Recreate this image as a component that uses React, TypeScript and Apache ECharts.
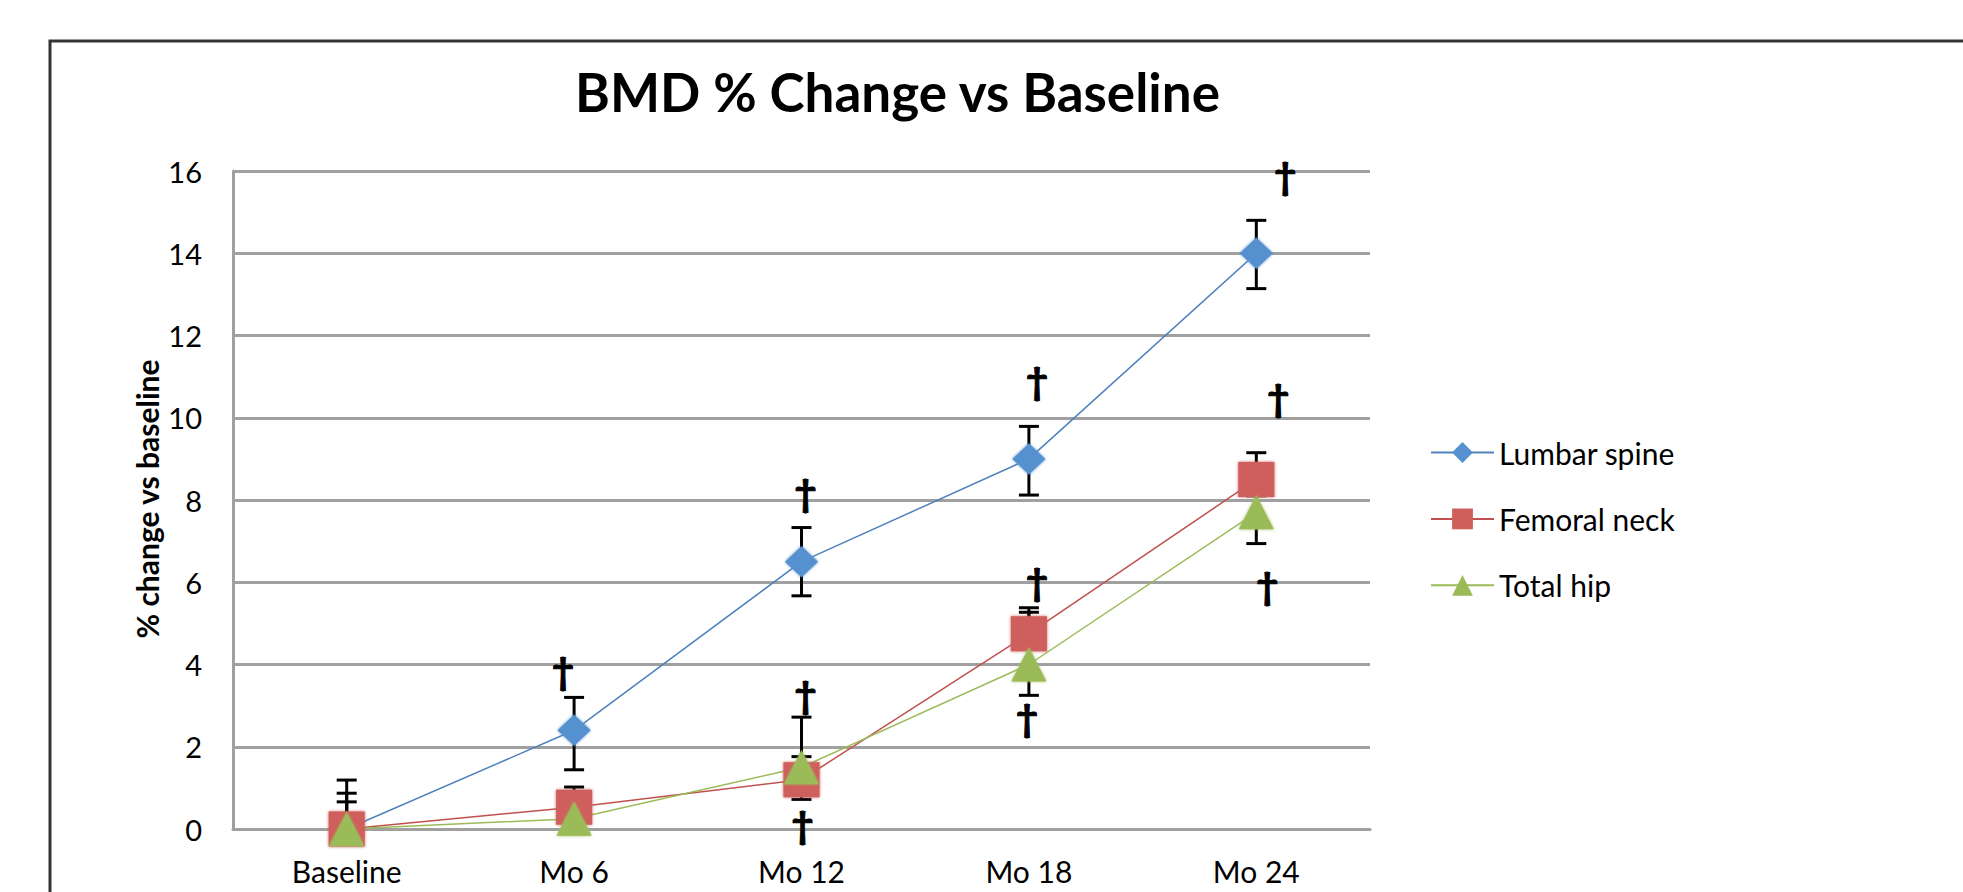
import React, { useEffect, useRef } from "react";
import * as echarts from "echarts";

const categories = ["Baseline", "Mo 6", "Mo 12", "Mo 18", "Mo 24"];
const seriesNames = ["Lumbar spine", "Femoral neck", "Total hip"];
const lumbarSpine = [0, 2.4, 6.5, 9.0, 14.0];
const femoralNeck = [0, 0.53, 1.2, 4.75, 8.5];
const totalHip = [0, 0.25, 1.5, 4.0, 7.7];

const lumbarLow = [-1.19, 1.44, 5.67, 8.12, 13.14];
const lumbarHigh = [1.19, 3.2, 7.33, 9.79, 14.8];
const femoralLow = [-0.87, 0.1, 0.72, 4.4, 8.1];
const femoralHigh = [0.87, 1.02, 1.76, 5.27, 9.15];
const hipLow = [-0.66, 0.0, 1.3, 3.25, 6.94];
const hipHigh = [0.66, 0.6, 2.72, 5.38, 8.46];

const daggerCats = [1, 2, 2, 2, 3, 3, 3, 4, 4, 4];
const daggerValues = [3.8, 8.13, 3.2, 0.05, 10.85, 5.95, 2.66, 15.82, 10.43, 5.87];
const daggerOffsets = [-11, 4, 4, 1, 8, 8, -2, 29, 22, 11];

const FONT = "Lato";

export default function App() {
  const ref = useRef<HTMLDivElement>(null);
  useEffect(() => {
    if (!ref.current) return;
    const chart = echarts.init(ref.current, undefined, { renderer: "svg" });

    const errData = (lo: number[], hi: number[]) =>
      categories.map((_, i) => [i, lo[i], hi[i]]);

    const errorSeries = (lo: number[], hi: number[]) => ({
      type: "custom",
      silent: true,
      clip: true,
      z: 1,
      data: errData(lo, hi),
      encode: { x: 0, y: [1, 2] },
      renderItem: (params: any, api: any) => {
        const x = api.value(0);
        const a = api.coord([x, api.value(1)]);
        const b = api.coord([x, api.value(2)]);
        const cw = 10;
        const st = { stroke: "#000", lineWidth: 3 };
        return {
          type: "group",
          children: [
            { type: "line", shape: { x1: a[0], y1: a[1], x2: b[0], y2: b[1] }, style: st },
            { type: "line", shape: { x1: a[0] - cw, y1: a[1], x2: a[0] + cw, y2: a[1] }, style: st },
            { type: "line", shape: { x1: b[0] - cw, y1: b[1], x2: b[0] + cw, y2: b[1] }, style: st },
          ],
        };
      },
    });

    const lineSeries = (
      name: string,
      data: number[],
      color: string,
      markColor: string,
      symbol: string,
      size: any
    ) => ({
      type: "line",
      name,
      data,
      z: 3,
      symbol,
      symbolSize: size,
      showAllSymbol: true,
      lineStyle: { color, width: 1.5 },
      itemStyle: { color: markColor, shadowBlur: 3, shadowColor: markColor },
      emphasis: { disabled: true },
    });

    chart.setOption({
      animation: false,
      backgroundColor: "#fff",
      grid: { left: 233, right: 593, top: 171, bottom: 63 },
      legend: {
        orient: "vertical",
        left: 1430,
        top: 437.5,
        padding: 0,
        itemWidth: 63,
        itemHeight: 26,
        itemGap: 36.4,
        textStyle: { fontFamily: FONT, fontSize: 30, color: "#000" },
        data: seriesNames,
      },
      xAxis: {
        type: "category",
        data: categories,
        boundaryGap: true,
        axisLine: { lineStyle: { color: "#a0a0a0", width: 3 } },
        axisTick: { show: false },
        axisLabel: { fontFamily: FONT, fontSize: 30, color: "#000", margin: 27 },
      },
      yAxis: {
        type: "value",
        min: 0,
        max: 16,
        interval: 2,
        axisLine: { show: true, lineStyle: { color: "#a0a0a0", width: 3 } },
        axisTick: { show: false },
        splitLine: { lineStyle: { color: "#a0a0a0", width: 3 } },
        axisLabel: { fontFamily: FONT, fontSize: 29, color: "#000", margin: 31 },
      },
      graphic: [
        {
          type: "rect",
          shape: { x: 50, y: 41, width: 2100, height: 1000 },
          style: { fill: "none", stroke: "#333", lineWidth: 3 },
          silent: true,
          z: -1,
        },
        {
          type: "text",
          x: 897.5,
          y: 91,
          style: {
            text: "BMD % Change vs Baseline",
            fontFamily: FONT,
            fontWeight: "bold",
            fontSize: 53,
            fill: "#000",
            align: "center",
            verticalAlign: "middle",
          },
        },
        {
          type: "text",
          x: 146.5,
          y: 499,
          rotation: Math.PI / 2,
          style: {
            text: "% change vs baseline",
            fontFamily: FONT,
            fontWeight: "bold",
            fontSize: 30,
            fill: "#000",
            align: "center",
            verticalAlign: "middle",
          },
        },
      ],
      series: [
        errorSeries(lumbarLow, lumbarHigh),
        errorSeries(femoralLow, femoralHigh),
        errorSeries(hipLow, hipHigh),
        lineSeries(seriesNames[0], lumbarSpine, "#4f81bd", "#5590cf", "diamond", [33, 31]),
        lineSeries(seriesNames[1], femoralNeck, "#c0504d", "#cf5f5b", "rect", [36, 35]),
        lineSeries(seriesNames[2], totalHip, "#9bbb59", "#9bbb59", "triangle", [35, 34]),
        {
          type: "custom",
          silent: true,
          clip: false,
          z: 4,
          data: daggerCats.map((c, i) => [c, daggerValues[i]]),
          encode: { x: 0, y: 1 },
          renderItem: (params: any, api: any) => {
            const p = api.coord([api.value(0), api.value(1)]);
            const dx = daggerOffsets[params.dataIndex];
            return {
              type: "text",
              x: p[0] + dx,
              y: p[1] - 3,
              style: {
                text: "†",
                fontFamily: FONT,
                fontWeight: "bold",
                fontSize: 38,
                fill: "#000",
                stroke: "#000",
                lineWidth: 1,
                align: "center",
                verticalAlign: "middle",
              },
            };
          },
        },
      ],
    });
    return () => chart.dispose();
  }, []);
  return (
    <div
      ref={ref}
      style={{ position: "absolute", left: 0, top: 0, width: 1963, height: 892 }}
    />
  );
}
